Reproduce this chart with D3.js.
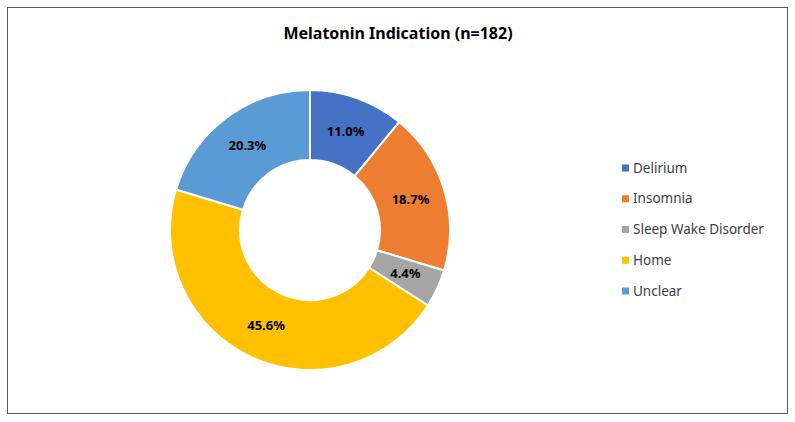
<!DOCTYPE html>
<html>
<head>
<meta charset="utf-8">
<script src="https://cdn.jsdelivr.net/npm/d3@7"></script>
<style>
  html, body { margin: 0; padding: 0; background: #fff; }
  svg { display: block; font-family: "Noto Sans", "Open Sans", sans-serif; }
</style>
</head>
<body>
<div id="chart"></div>
<script>
// Data: counts out of n=182
const categories = ["Delirium", "Insomnia", "Sleep Wake Disorder", "Home", "Unclear"];
const counts     = [20, 34, 8, 83, 37];
const colors     = ["#4472C4", "#ED7D31", "#A5A5A5", "#FFC000", "#5B9BD5"];
const title      = "Melatonin Indication (n=182)";

const W = 795, H = 422;
const total = d3.sum(counts);

const svg = d3.select("#chart").append("svg")
  .attr("width", W).attr("height", H);

// Frame
svg.append("rect")
  .attr("x", 7.5).attr("y", 7.5)
  .attr("width", 780).attr("height", 406)
  .attr("fill", "#fff").attr("stroke", "#595959").attr("stroke-width", 1);

// Title
svg.append("text")
  .attr("x", 398).attr("y", 39)
  .attr("text-anchor", "middle")
  .attr("font-size", "16px").attr("font-weight", "bold")
  .attr("fill", "#000")
  .text(title);

// ── Donut ──
const cx = 310, cy = 230, R = 140, r = 70;
const data = categories.map((c, i) => ({ cat: c, value: counts[i], color: colors[i] }));

const pie = d3.pie().value(d => d.value).sort(null);
const arc = d3.arc().innerRadius(r).outerRadius(R);
const arcs = pie(data);

const g = svg.append("g").attr("transform", `translate(${cx},${cy})`);

g.selectAll("path")
  .data(arcs)
  .join("path")
  .attr("d", arc)
  .attr("fill", d => d.data.color)
  .attr("stroke", "#fff")
  .attr("stroke-width", 2);

const fmt = d3.format(".1%");
g.selectAll("text")
  .data(arcs)
  .join("text")
  .attr("transform", d => `translate(${arc.centroid(d)})`)
  .attr("text-anchor", "middle")
  .attr("dy", "0.35em")
  .attr("font-size", "13px").attr("font-weight", "bold")
  .attr("fill", "#000")
  .text(d => fmt(d.data.value / total));

// ── Legend ──
const legendY = d3.scalePoint().domain(categories).range([168, 291]);
const legend = svg.append("g").selectAll("g")
  .data(data)
  .join("g")
  .attr("transform", d => `translate(622,${legendY(d.cat)})`);

legend.append("rect")
  .attr("x", 0).attr("y", -3.5)
  .attr("width", 7).attr("height", 7)
  .attr("fill", d => d.color);

legend.append("text")
  .attr("x", 11).attr("dy", "0.35em")
  .attr("font-size", "13.5px")
  .attr("fill", "#404040")
  .text(d => d.cat);
</script>
</body>
</html>
